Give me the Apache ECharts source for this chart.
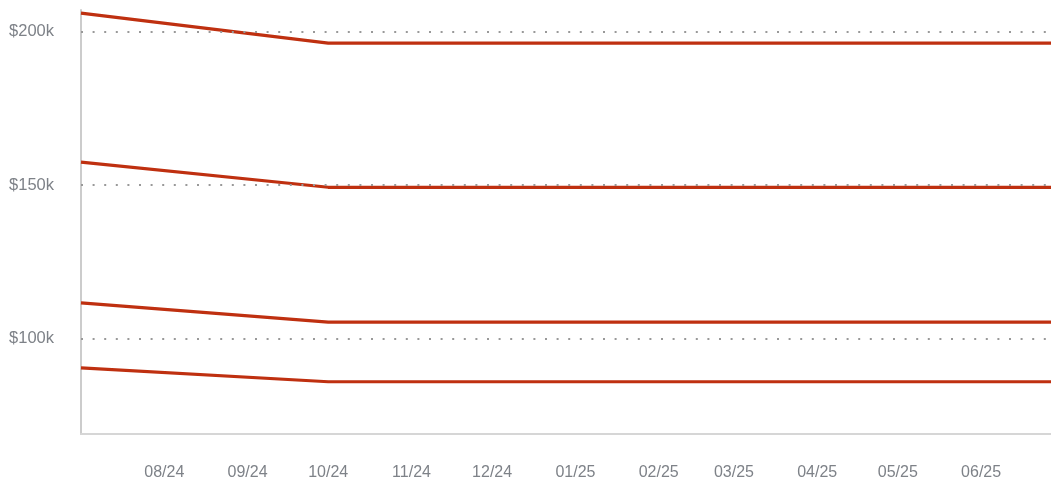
<!DOCTYPE html>
<html>
<head>
<meta charset="utf-8">
<script src="https://cdn.jsdelivr.net/npm/echarts@6/dist/echarts.min.js"></script>
<style>
  html, body { margin: 0; padding: 0; background: #fff; }
  #chart { width: 1051px; height: 483px; }
</style>
</head>
<body>
<div id="chart"></div>
<script>
// Dates of the observations (YYYY-MM-DD)
const dates = [
  '2024-07-01', '2024-10-01', '2024-11-01', '2024-12-01', '2025-01-01',
  '2025-02-01', '2025-03-01', '2025-04-01', '2025-05-01', '2025-06-01', '2025-06-27'
];

// Values in thousands of dollars
const seriesTop     = [206.0, 196.2, 196.2, 196.2, 196.2, 196.2, 196.2, 196.2, 196.2, 196.2, 196.2];
const seriesUpper   = [157.5, 149.3, 149.3, 149.3, 149.3, 149.3, 149.3, 149.3, 149.3, 149.3, 149.3];
const seriesLower   = [111.7, 105.4, 105.4, 105.4, 105.4, 105.4, 105.4, 105.4, 105.4, 105.4, 105.4];
const seriesBottom  = [90.5, 86.0, 86.0, 86.0, 86.0, 86.0, 86.0, 86.0, 86.0, 86.0, 86.0];

// Axis ticks
const monthTicks = [
  '2024-08-01', '2024-09-01', '2024-10-01', '2024-11-01', '2024-12-01',
  '2025-01-01', '2025-02-01', '2025-03-01', '2025-04-01', '2025-05-01', '2025-06-01'
];
const valueTicks = [100, 150, 200];

const xMin = '2024-07-01';
const xMax = '2025-06-27';

// Dates are placed on a linear axis measured in days
function toDay(s) {
  const p = s.split('-').map(Number);
  return Math.round(Date.UTC(p[0], p[1] - 1, p[2]) / 86400000);
}
function pad(n) { return (n < 10 ? '0' : '') + n; }

function pairs(vals) {
  return dates.map((d, i) => [toDay(d), vals[i]]);
}

const lineColor = '#bf3010';
function lineSeries(vals) {
  return {
    type: 'line',
    data: pairs(vals),
    showSymbol: false,
    symbol: 'none',
    z: 3,
    lineStyle: { color: lineColor, width: 3.2 },
    itemStyle: { color: lineColor }
  };
}

const labelFont = 'Liberation Sans, Arial, sans-serif';

const chart = echarts.init(document.getElementById('chart'), null, { renderer: 'canvas' });

chart.setOption({
  animation: false,
  grid: { left: 81, right: 0, top: 10, bottom: 49, containLabel: false },
  xAxis: {
    type: 'value',
    min: toDay(xMin),
    max: toDay(xMax),
    axisLine: { show: true, lineStyle: { color: '#d6d6d6', width: 2 } },
    axisTick: { show: false },
    splitLine: { show: false },
    axisLabel: {
      customValues: monthTicks.map(toDay),
      margin: 31,
      color: '#7e8288',
      fontSize: 16,
      fontFamily: labelFont,
      formatter: function (v) {
        const d = new Date(v * 86400000);
        return pad(d.getUTCMonth() + 1) + '/' + pad(d.getUTCFullYear() % 100);
      }
    }
  },
  yAxis: {
    type: 'value',
    min: 69,
    max: 207,
    axisLine: { show: true, lineStyle: { color: '#cccccc', width: 2 } },
    axisTick: { show: false },
    splitLine: { show: false },
    axisLabel: {
      customValues: valueTicks,
      margin: 27,
      color: '#7e8288',
      fontSize: 16.5,
      fontFamily: labelFont,
      formatter: function (v) { return '$' + v + 'k'; }
    }
  },
  series: [
    {
      // dotted reference lines at the labelled values
      type: 'line',
      data: [],
      z: 1,
      silent: true,
      markLine: {
        silent: true,
        symbol: 'none',
        label: { show: false },
        emphasis: { disabled: true },
        lineStyle: { color: '#999999', width: 2, type: [2, 9.6] },
        data: valueTicks.map(v => ({ yAxis: v }))
      }
    },
    lineSeries(seriesTop),
    lineSeries(seriesUpper),
    lineSeries(seriesLower),
    lineSeries(seriesBottom)
  ]
});
</script>
</body>
</html>
